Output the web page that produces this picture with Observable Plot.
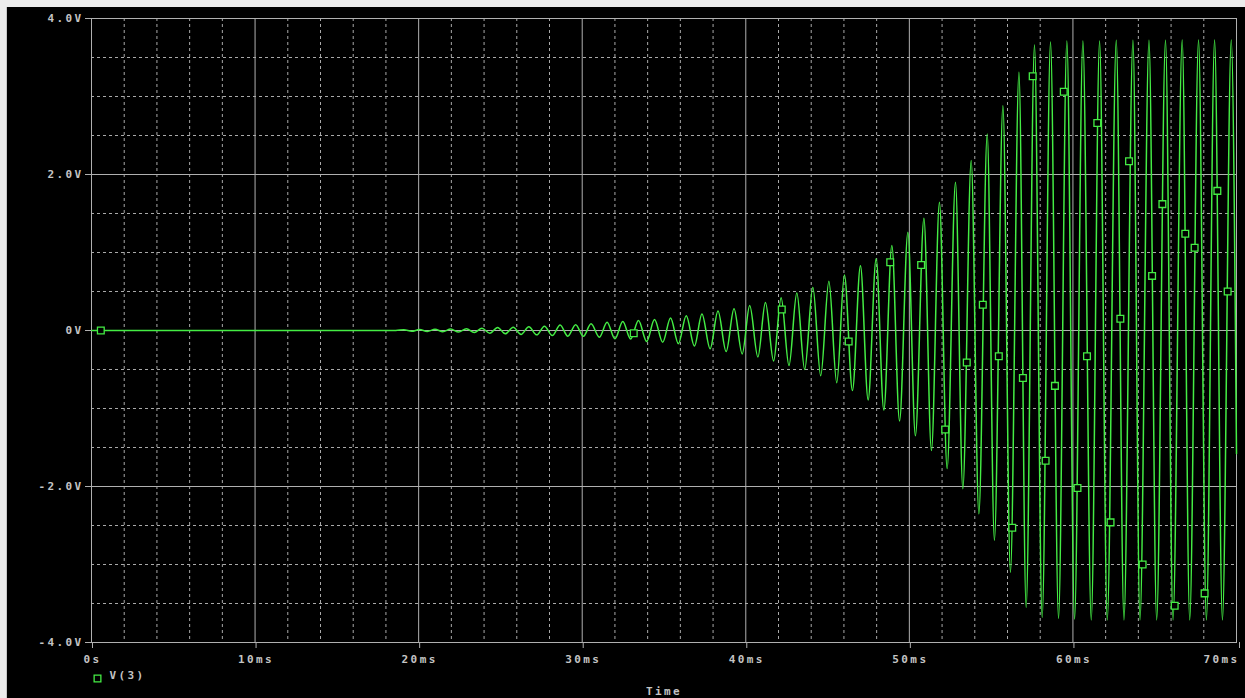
<!DOCTYPE html>
<html><head><meta charset="utf-8">
<script src="https://cdn.jsdelivr.net/npm/d3@7"></script>
<script src="https://cdn.jsdelivr.net/npm/@observablehq/plot@0.6"></script>
<style>
html,body{margin:0;padding:0;background:#ececec;width:1245px;height:698px;overflow:hidden}
#wrap{position:absolute;left:6px;top:7px;width:1239px;height:691px;background:#000;border-left:1px solid #c8c8c8;box-sizing:border-box}
#wrap svg{font-family:"DejaVu Sans Mono",monospace;font-size:11px;font-weight:bold;letter-spacing:2.4px}
</style></head><body><div id="wrap"></div>
<script>
// time in ms, values in volts
const flatT = [0, 4, 8, 12, 16, 18.6];
const flatV = [0, 0, 0, 0, 0, 0];
const peakT = [19.10, 20.05, 21.00, 21.96, 22.92, 23.87, 24.83, 25.78, 26.74, 27.69, 28.65, 29.60, 30.54,
  31.52, 32.48, 33.44, 34.42, 35.40, 36.36, 37.32, 38.30, 39.28, 40.24, 41.20, 42.16, 43.12, 44.10, 45.08,
  46.03, 47.01, 47.97, 48.93, 49.91, 50.89, 51.84, 52.82, 53.78, 54.76, 55.72, 56.70, 57.65, 58.63, 59.63,
  60.61, 61.63, 62.65, 63.67, 64.65, 65.66, 66.68, 67.68, 68.66, 69.68];
const peakV = [0.010, 0.012, 0.015, 0.018, 0.022, 0.030, 0.040, 0.042, 0.048, 0.055, 0.070, 0.075, 0.085,
  0.105, 0.115, 0.128, 0.140, 0.160, 0.190, 0.210, 0.250, 0.280, 0.320, 0.360, 0.420, 0.480, 0.555, 0.630,
  0.710, 0.830, 0.920, 1.090, 1.260, 1.440, 1.645, 1.900, 2.180, 2.520, 2.880, 3.310, 3.660, 3.700, 3.710,
  3.710, 3.710, 3.720, 3.720, 3.720, 3.720, 3.725, 3.725, 3.725, 3.725];
const troughT = [19.58, 20.53, 21.48, 22.44, 23.40, 24.35, 25.30, 26.26, 27.22, 28.17, 29.12, 30.07, 31.05,
  32.00, 32.96, 33.94, 34.92, 35.88, 36.86, 37.82, 38.80, 39.78, 40.74, 41.70, 42.64, 43.60, 44.58, 45.56,
  46.52, 47.48, 48.44, 49.40, 50.37, 51.35, 52.31, 53.27, 54.25, 55.20, 56.18, 57.14, 58.12, 59.12, 60.10,
  61.12, 62.10, 63.12, 64.10, 65.12, 66.12, 67.14, 68.16, 69.14];
const troughV = [-0.010, -0.012, -0.015, -0.020, -0.025, -0.035, -0.043, -0.050, -0.056, -0.065, -0.073, -0.075, -0.085,
  -0.107, -0.110, -0.140, -0.150, -0.170, -0.200, -0.235, -0.270, -0.300, -0.340, -0.390, -0.450, -0.500, -0.580, -0.670,
  -0.770, -0.890, -1.020, -1.160, -1.350, -1.540, -1.770, -2.030, -2.350, -2.690, -3.100, -3.550, -3.680, -3.690, -3.700,
  -3.710, -3.710, -3.710, -3.710, -3.710, -3.710, -3.710, -3.710, -3.710];
const endT = [70];
const endV = [-1.58];

const markerT = [0.57, 33.15, 42.20, 46.29, 48.83, 50.72, 52.19, 53.51, 54.49, 55.47, 56.29, 56.94, 57.54, 58.33,
  58.90, 59.44, 60.28, 60.86, 61.49, 62.30, 62.90, 63.43, 64.26, 64.84, 65.47, 66.22, 66.87, 67.44, 68.05, 68.83, 69.46];
const markerV = [0.00, -0.035, 0.27, -0.14, 0.876, 0.84, -1.27, -0.41, 0.33, -0.33, -2.53, -0.61, 3.26, -1.67,
  -0.71, 3.06, -2.02, -0.33, 2.66, -2.46, 0.15, 2.17, -3.00, 0.70, 1.62, -3.53, 1.24, 1.06, -3.37, 1.79, 0.50];

const xMajor = [0, 10, 20, 30, 40, 50, 60, 70];
const xMinor = [2, 4, 6, 8, 12, 14, 16, 18, 22, 24, 26, 28, 32, 34, 36, 38, 42, 44, 46, 48, 52, 54, 56, 58, 62, 64, 66, 68];
const yMajor = [-4, -2, 0, 2, 4];
const yMinor = [-3.5, -3, -2.5, -1.5, -1, -0.5, 0.5, 1, 1.5, 2.5, 3, 3.5];
const seriesName = "V(3)";
const xTitle = "Time";

const trace = [];
flatT.forEach((t, i) => trace.push({t, v: flatV[i]}));
peakT.forEach((t, i) => trace.push({t, v: peakV[i]}));
troughT.forEach((t, i) => trace.push({t, v: troughV[i]}));
endT.forEach((t, i) => trace.push({t, v: endV[i]}));
trace.sort((a, b) => a.t - b.t);
const markers = markerT.map((t, i) => ({t, v: markerV[i]}));

const green = "#44ec44";
const grid = "#a9a9a9";
const fmtX = d => d === 0 ? "0s" : d + "ms";
const fmtY = d => d === 0 ? "0V" : d.toFixed(1) + "V";

const chart = Plot.plot({
  width: 1238, height: 691,
  marginLeft: 84, marginRight: 9, marginTop: 11, marginBottom: 56,
  x: {domain: [0, 70]},
  y: {domain: [-4, 4]},
  style: {background: "#000", color: "#c4c4c4"},
  marks: [
    Plot.ruleX(xMinor, {stroke: grid, strokeDasharray: "3,3"}),
    Plot.ruleY(yMinor, {stroke: grid, strokeDasharray: "3,3"}),
    Plot.ruleX(xMajor, {stroke: "#b0b0b0"}),
    Plot.ruleY(yMajor, {stroke: "#b0b0b0"}),
    Plot.frame({stroke: "#b0b0b0"}),
    Plot.line(trace, {x: "t", y: "v", curve: "monotone-x", stroke: green, strokeWidth: 1.5}),
    Plot.dot(markers, {x: "t", y: "v", symbol: "square", r: 3.8, stroke: green, fill: "#000", strokeWidth: 1.3}),
    Plot.axisY({ticks: yMajor, tickSize: 6, tickPadding: 2, tickFormat: fmtY, stroke: "#b0b0b0", label: null}),
    Plot.axisX({ticks: xMajor.slice(0, -1), tickSize: 6, tickPadding: 7, tickFormat: fmtX, stroke: "#b0b0b0", label: null, dx: 1}),
    Plot.axisX({ticks: [70], tickSize: 6, tickPadding: 7, tickFormat: fmtX, stroke: "#b0b0b0", label: null, textAnchor: "end", dx: 3}),
    Plot.dot([seriesName], {frameAnchor: "bottom-left", dx: 6, dy: 36, symbol: "square", r: 3.8, stroke: green, fill: "#000", strokeWidth: 1.3}),
    Plot.text([seriesName], {frameAnchor: "bottom-left", dx: 18, dy: 36, text: d => d, textAnchor: "start"}),
    Plot.text([xTitle], {frameAnchor: "bottom", dy: 52, text: d => d})
  ]
});
document.getElementById("wrap").appendChild(chart);
</script></body></html>
